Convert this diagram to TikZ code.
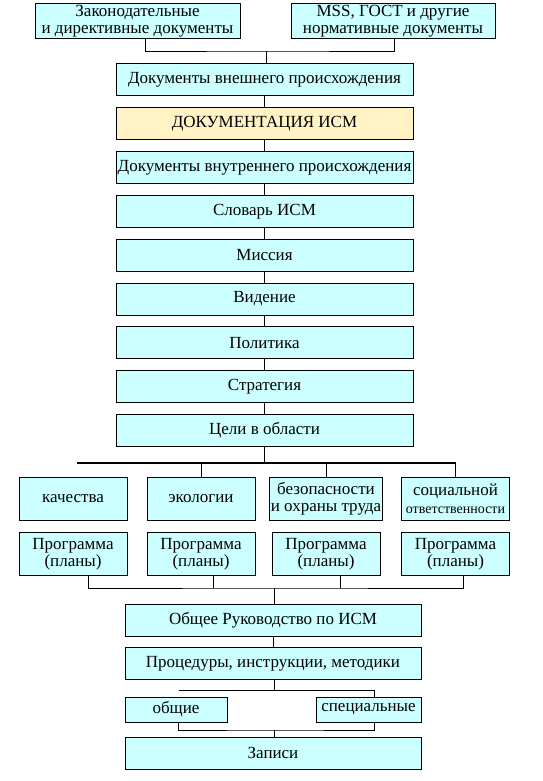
\documentclass[tikz,border=0pt]{standalone}
\usepackage{fontspec}
\setmainfont{Liberation Serif}
\usetikzlibrary{positioning}
\definecolor{boxcyan}{RGB}{204,255,255}
\definecolor{boxyellow}{RGB}{255,242,196}

\begin{document}
\begin{tikzpicture}[x=1pt, y=1pt,
  box/.style={rectangle, draw, fill=boxcyan, line width=0.9pt, inner sep=1pt,
              minimum height=32pt, align=center, font=\fontsize{17}{17.5}\selectfont},
  wide/.style={box, minimum width=297pt},
  small/.style={box, minimum width=108pt, minimum height=43pt},
  link/.style={line width=0.9pt},
  bus/.style={line width=2.2pt},
  node distance=11pt
]
\useasboundingbox (0,0) rectangle (542,-781);

% sources
\node[box, minimum width=205pt, minimum height=34pt] (law) at (137.5,-21)
      {Законодательные\\и директивные документы};
\node[box, minimum width=204pt, minimum height=34pt] (mss) at (393,-21)
      {MSS, ГОСТ и другие\\нормативные документы};

% main chain
\node[wide] (ext) at (264.5,-79.5) {Документы внешнего происхождения};
\node[wide, fill=boxyellow, below=of ext] (docism) {ДОКУМЕНТАЦИЯ ИСМ};
\node[wide, below=of docism] (int) {Документы внутреннего происхождения};
\node[wide, below=of int] (vocab) {Словарь ИСМ};
\node[wide, below=of vocab] (mission) {Миссия};
\node[wide, below=of mission] (vision) {Видение};
\node[wide, below=of vision] (policy) {Политика};
\node[wide, below=of policy] (strategy) {Стратегия};
\node[wide, below=of strategy] (goals) {Цели в области};

% areas and programmes
\node[small] (qual) at (73,-498.5) {качества};
\node[small] (eco) at (201,-498.5) {экологии};
\node[small] (safe) at (326,-498.5) {безопасности\\и охраны труда};
\node[small] (soc) at (455.5,-498.5)
      {социальной\\{\fontsize{14}{17.5}\selectfont ответственности}};
\node[small, below=12pt of qual] (prog1) {Программа\\(планы)};
\node[small, below=12pt of eco] (prog2) {Программа\\(планы)};
\node[small, below=12pt of safe] (prog3) {Программа\\(планы)};
\node[small, below=12pt of soc] (prog4) {Программа\\(планы)};

% lower part
\node[wide, minimum width=296pt] (manual) at (273,-620) {Общее Руководство по ИСМ};
\node[wide, minimum width=296pt, below=of manual] (proc) {Процедуры, инструкции, методики};
\node[box, minimum width=102pt, minimum height=25pt] (gen) at (176,-709.5) {общие};
\node[box, minimum width=105pt, minimum height=25pt] (spec) at (368.5,-709.5) {специальные};
\node[wide, minimum width=296pt] (rec) at (273,-753) {Записи};

% connectors
\coordinate (j1) at (266,-51);
\draw[link] ([xshift=8pt]law.south) |- (j1) -| ([xshift=1pt]mss.south);
\draw[link] (j1) -- (j1 |- ext.north);
\foreach \a/\b in {ext/docism, docism/int, int/vocab, vocab/mission,
                   mission/vision, vision/policy, policy/strategy, strategy/goals}
  \draw[link] (\a) -- (\b);

\coordinate (busL) at (77,-463);
\coordinate (busR) at (soc.north |- busL);
\draw[bus] (busL) -- (busR);
\draw[link] (goals) -- (goals |- busL);
\foreach \q in {eco, safe, soc}
  \draw[link] (\q.north |- busL) -- (\q.north);

\coordinate (j2) at (274,-588);
\draw[link] ([xshift=15pt]prog1.south) |- (j2) -| ([xshift=8pt]prog4.south);
\draw[link] ([xshift=12pt]prog2.south) -- ([xshift=12pt]prog2.south |- j2);
\draw[link] ([xshift=14pt]prog3.south) -- ([xshift=14pt]prog3.south |- j2);
\draw[link] (j2) -- (j2 |- manual.north);
\draw[link] (manual) -- (proc);

\coordinate (j3) at (274,-690);
\coordinate (j3L) at (179,-690);
\draw[link] (j3 |- proc.south) -- (j3);
\draw[link] (j3L) -| ([xshift=6pt]spec.north);

\coordinate (j4) at (274,-730);
\draw[link] ([xshift=2pt]gen.south) |- (j4) -| ([xshift=6pt]spec.south);
\draw[link] (j4) -- (j4 |- rec.north);
\end{tikzpicture}
\end{document}
